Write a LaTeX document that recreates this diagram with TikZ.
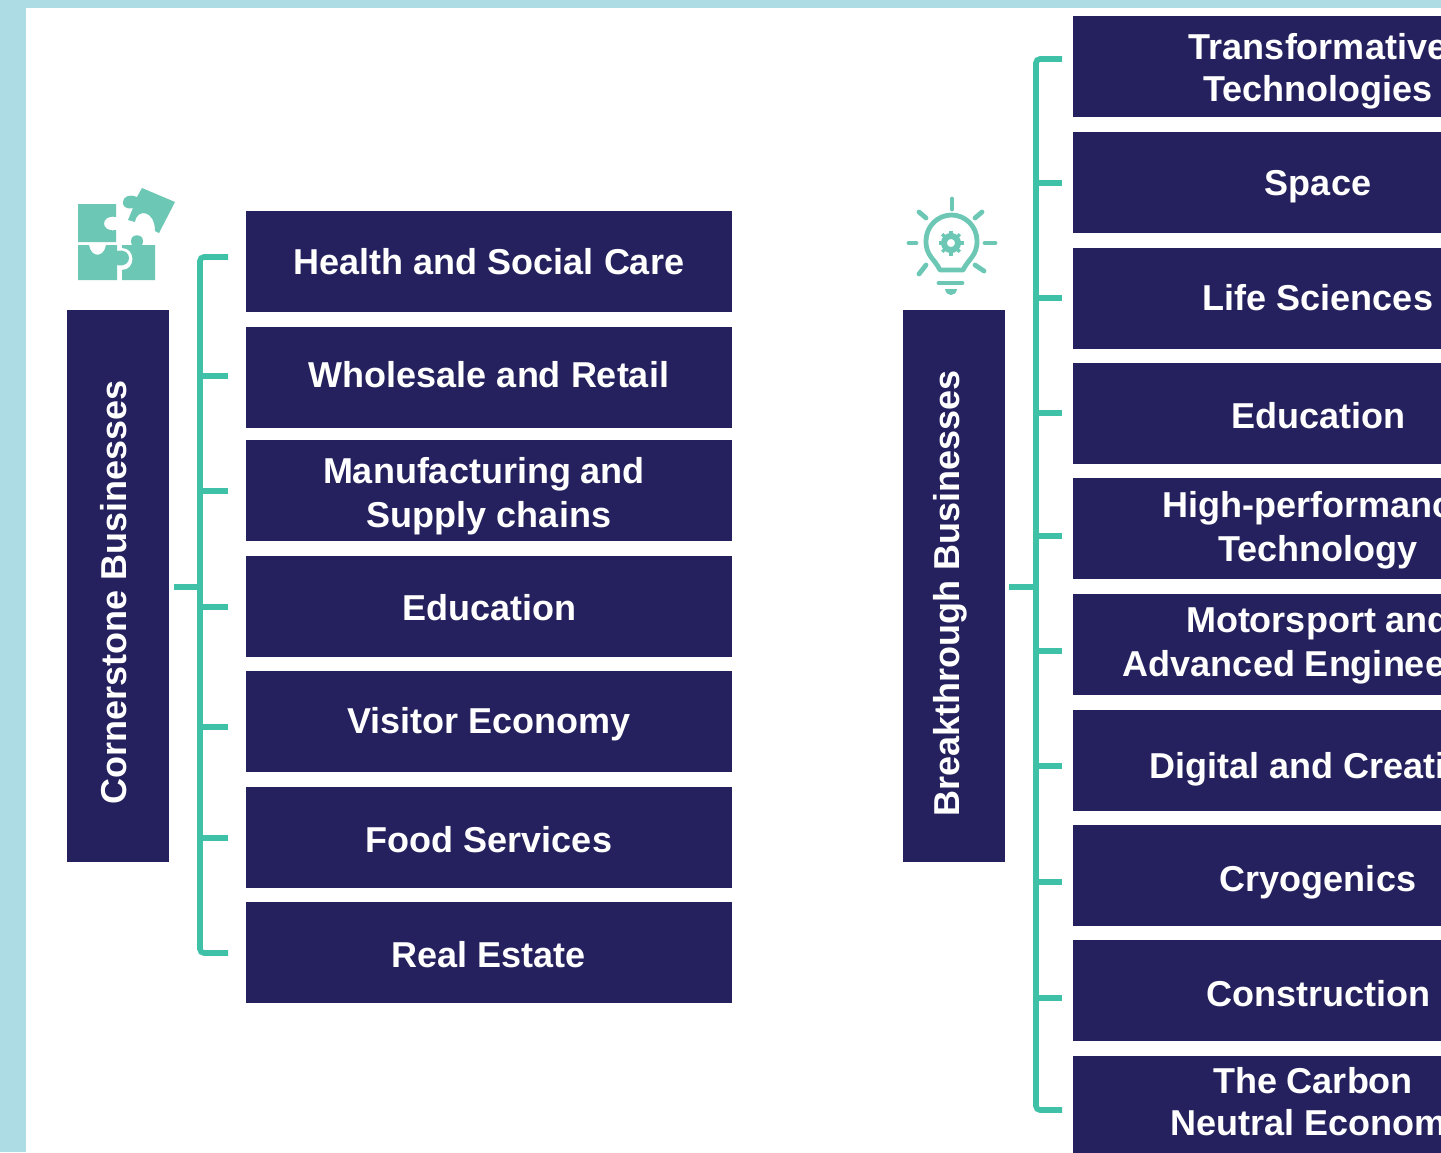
\documentclass[tikz,border=0pt]{standalone}
\usepackage{fontspec}
\setmainfont{Liberation Sans}
\definecolor{navy}{HTML}{25215E}
\definecolor{teal1}{HTML}{3FC1A8}
\definecolor{teal2}{HTML}{6CC7B5}
\definecolor{frame}{HTML}{ADDCE4}
\tikzset{
 bx/.style={fill=navy,draw=none,inner sep=0pt,outer sep=0pt,minimum width=243pt,minimum height=50.5pt},
 lbl/.style={text=white,inner sep=0pt,align=center,font=\fontsize{18}{22}\bfseries\selectfont},
 sidebox/.style={fill=navy,draw=none,inner sep=0pt,outer sep=0pt,minimum width=51pt,minimum height=276pt},
 sidetext/.style={text=white,rotate=90,inner sep=0pt,font=\fontsize{18}{22}\bfseries\selectfont},
 conn/.style={draw=teal1,line width=2.8pt},
 ray/.style={draw=teal2,line width=2.4pt,line cap=round},
 piece/.style={fill=teal2,draw=none}
}
\begin{document}
\begin{tikzpicture}[x=0.5pt,y=-0.5pt]
\useasboundingbox (0,0) rectangle (1441,1152);
\clip (0,0) rectangle (1441,1152);
\fill[frame] (0,0) rectangle (1441,1152);
\fill[white] (26,8) rectangle (1441,1152);
% left boxes
\foreach \n/\y in {l1/261.5,l2/377.5,l3/490.5,l4/606,l5/721,l6/837,l7/952.5}{
  \node[bx] (\n) at (489,\y) {};
}
\node[lbl] (lt1) at (489,262) {Health and Social Care};
\node[lbl] (lt2) at (489,375) {Wholesale and Retail};
\node[lbl] (lt3) at (489,496.5) {Manufacturing and\hspace*{5pt}\\Supply chains};
\node[lbl] (lt4) at (489,608) {Education};
\node[lbl] (lt5) at (489,724) {Visitor Economy};
\node[lbl] (lt6) at (489,840) {Food Services};
\node[lbl] (lt7) at (489,955) {Real Estate};
% right boxes
\foreach \n/\y in {r1/66.5,r2/182.5,r3/298,r4/413,r5/528.5,r6/644,r7/760,r8/875,r9/990.5,r10/1106.5}{
  \node[bx] (\n) at (1316,\y) {};
}
\node[lbl] (rt1) at (1318,71.5) {Transformative\\[-1pt]Technologies};
\node[lbl] (rt2) at (1318,187) {Space};
\node[lbl] (rt3) at (1318,298) {Life Sciences};
\node[lbl] (rt4) at (1318,416) {Education};
\node[lbl] (rt5) at (1318,530.5) {High-performance\\Technology};
\node[lbl] (rt6) at (1318,645) {Motorsport and\\Advanced Engineering};
\node[lbl] (rt7) at (1318,769) {Digital and Creative};
\node[lbl] (rt8) at (1318,882) {Cryogenics};
\node[lbl] (rt9) at (1318,994) {Construction};
\node[lbl] (rt10) at (1316,1105) {The Carbon\hspace*{3pt}\\[-1pt]\hspace*{3pt}Neutral Economy};
% side boxes
\node[sidebox] (cb) at (118,586) {};
\node[sidetext] (cbt) at (114,592.5) {Cornerstone Businesses};
\node[sidebox] (bb) at (953.5,586) {};
\node[sidetext] (bbt) at (950,593) {Breakthrough Businesses};
% left connectors
\coordinate (ls) at (174,587); \coordinate (lm) at (200,587);
\coordinate (lt) at (200,257); \coordinate (lb) at (200,953);
\coordinate (a1) at (228,257); \coordinate (a7) at (228,953);
\draw[conn] (ls) -- (lm);
\draw[conn,rounded corners=2pt] (a1) -- (lt) -- (lb) -- (a7);
\foreach \n/\y in {a2/376,a3/491,a4/607,a5/727,a6/838}{
  \coordinate (\n) at (228,\y);
  \coordinate (\n s) at (200,\y);
  \draw[conn] (\n s) -- (\n);
}
% right connectors
\coordinate (rs) at (1009,587); \coordinate (rm) at (1036,587);
\coordinate (rt) at (1036,59); \coordinate (rb) at (1036,1110);
\coordinate (b1) at (1062,59); \coordinate (b10) at (1062,1110);
\draw[conn] (rs) -- (rm);
\draw[conn,rounded corners=2pt] (b1) -- (rt) -- (rb) -- (b10);
\foreach \n/\y in {b2/183,b3/298,b4/413,b5/536,b6/651,b7/766,b8/882,b9/998}{
  \coordinate (\n) at (1062,\y);
  \coordinate (\n s) at (1036,\y);
  \draw[conn] (\n s) -- (\n);
}
% puzzle icon
\fill[piece] (78,204) -- (116,204) -- (116,217) .. controls (100,214) and (100,233) .. (116,230) -- (116,242) -- (78,242) -- cycle;
\fill[piece] (78,245) -- (89,245) .. controls (91,258) and (104,258) .. (106,245) -- (117,245) -- (117,251) .. controls (133,247) and (133,269) .. (117,265) -- (117,280) -- (78,280) -- cycle;
\fill[piece] (122,245) -- (132,245) .. controls (126,232) and (148,232) .. (142,245) -- (155,245) -- (155,280) -- (122,280) -- (122,270) .. controls (136,270) and (136,248) .. (122,248) -- cycle;
\fill[piece] (142,188) -- (175,202) -- (159,233) -- (155,231) .. controls (155,210) and (137,208) .. (135,222) -- (128,220) -- (133,208) .. controls (118,212) and (120,190) .. (137,197) -- cycle;
% bulb icon
\draw[ray] (952,199) -- (952,209);
\draw[ray] (919,212) -- (926,218);
\draw[ray] (982,212) -- (975,218);
\draw[ray] (909,243) -- (916,243);
\draw[ray] (985,243) -- (995,243);
\draw[ray] (919,274) -- (926,265);
\draw[ray] (984,271) -- (975,265);
\draw[draw=teal2,line width=2.4pt,line join=round] (940,270) .. controls (934,258) and (926,256) .. (926,241) .. controls (926,226) and (938,215) .. (951.5,215) .. controls (965,215) and (977,226) .. (977,241) .. controls (977,256) and (969,258) .. (963,270) -- cycle;
\draw[draw=teal2,line width=3pt] (951,243) circle (7);
\foreach \a in {0,45,...,315}{
  \draw[draw=teal2,line width=1.6pt] (951,243) ++(\a:8) -- ++(\a:4.5);
}
\draw[ray] (939,283) -- (962,283);
\fill[teal2] (945,289) -- (957,289) .. controls (956,297) and (946,297) .. (945,289) -- cycle;
\end{tikzpicture}
\end{document}
